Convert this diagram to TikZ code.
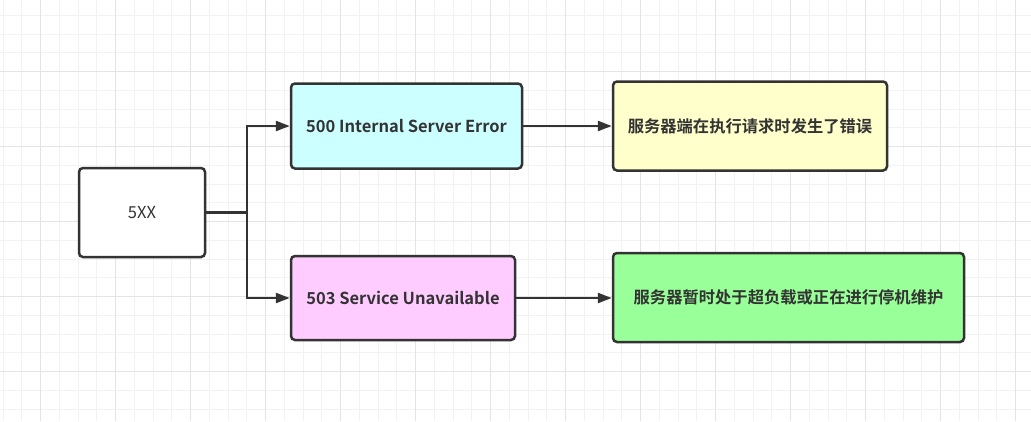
\documentclass[tikz,border=0pt]{standalone}
\usepackage{fontspec}
\setmainfont{Noto Sans CJK SC}[BoldFont={Noto Sans CJK SC Bold}]
\usetikzlibrary{arrows.meta}
\definecolor{edgegray}{HTML}{333333}
\definecolor{gridminor}{HTML}{F2F2F2}
\definecolor{gridmajor}{HTML}{E4E4E4}
\definecolor{errcyan}{HTML}{CCFFFF}
\definecolor{errpink}{HTML}{FFCCFF}
\definecolor{noteyellow}{HTML}{FFFFCC}
\definecolor{notegreen}{HTML}{99FF99}
\tikzset{
  box/.style = {draw = edgegray, line width = 2.5pt, rounded corners = 4pt,
                text = edgegray, inner sep = 0pt, font = \fontsize{16.5}{19}\selectfont},
  link/.style = {draw = edgegray, line width = 2.5pt,
                 -{Triangle[length = 14pt, width = 10pt]}}
}

\begin{document}
\begin{tikzpicture}[x = 1pt, y = -1pt]
    \useasboundingbox (0,0) rectangle (1031,421);
    \fill [white] (0,0) rectangle (1031,421);
    % grid
    \foreach \i in {0,...,55} {
        \draw [gridminor, line width = 1pt] ({3.2 + 18.75*\i},0) -- ++(0,421);
    }
    \foreach \j in {0,...,22} {
        \draw [gridminor, line width = 1pt] (0,{-3.3 + 18.75*\j}) -- ++(1031,0);
    }
    \foreach \i in {0,...,13} {
        \draw [gridmajor, line width = 1pt] ({40.7 + 75*\i},0) -- ++(0,421);
    }
    \foreach \j in {0,...,5} {
        \draw [gridmajor, line width = 1pt] (0,{-3.3 + 75*\j}) -- ++(1031,0);
    }
    % boxes
    \node [box, fill = white, minimum width = 126pt, minimum height = 89pt]
        (fivexx) at (142,212.5) {5XX};
    \node [box, fill = errcyan, minimum width = 231pt, minimum height = 85pt,
           font = \fontsize{16.5}{19}\selectfont\bfseries]
        (err500) at (406.5,126) {500 Internal Server Error};
    \node [box, fill = errpink, minimum width = 224pt, minimum height = 84pt,
           font = \fontsize{16.5}{19}\selectfont\bfseries]
        (err503) at (403,298) {503 Service Unavailable};
    \node [box, fill = noteyellow, minimum width = 274pt, minimum height = 89pt,
           font = \fontsize{16.3}{19}\selectfont\bfseries]
        (note500) at (750,126) {服务器端在执行请求时发生了错误};
    \node [box, fill = notegreen, minimum width = 351pt, minimum height = 89pt,
           font = \fontsize{16.3}{19}\selectfont\bfseries]
        (note503) at (788.5,297.5) {服务器暂时处于超负载或正在进行停机维护};
    % connectors
    \coordinate (split) at (247,212.5);
    \draw [edgegray, line width = 2.5pt] (fivexx.east) -- (split);
    \draw [link] (split) |- (err500.west);
    \draw [link] (split) |- (err503.west);
    \draw [link] (err500.east) -- (note500.west);
    \draw [link] (err503.east) -- (note503.west |- err503.east);
\end{tikzpicture}
\end{document}
